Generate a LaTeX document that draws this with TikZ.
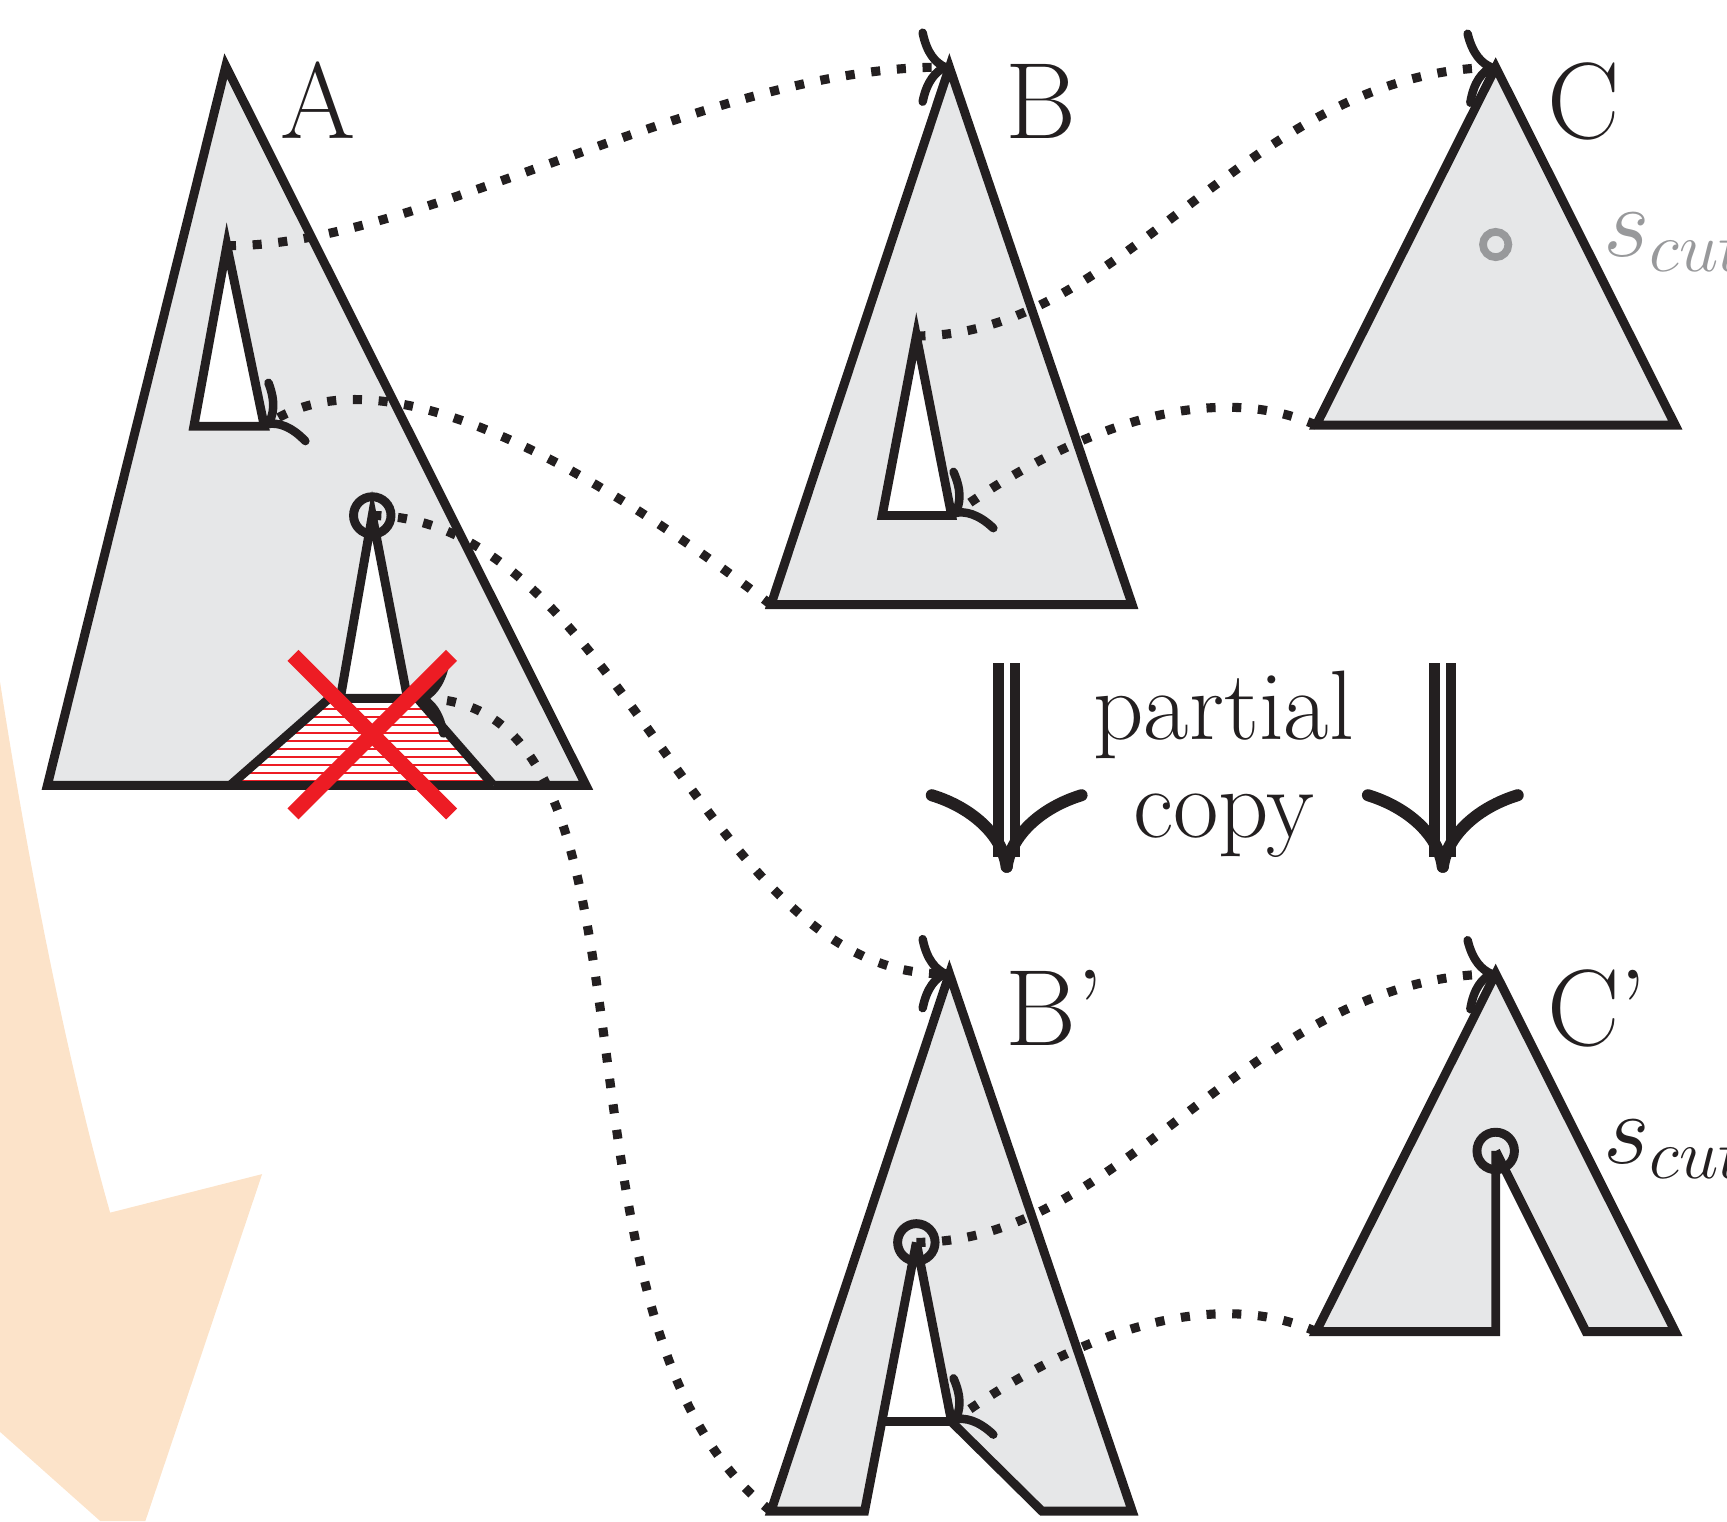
\RequirePackage{fix-cm}
\documentclass[tikz,border=0pt]{standalone}
\usetikzlibrary{arrows.meta}
\definecolor{ink}{RGB}{35,31,32}
\definecolor{treegray}{RGB}{230,231,232}
\definecolor{xred}{RGB}{237,28,36}
\definecolor{peach}{RGB}{252,227,201}
\definecolor{markgray}{RGB}{152,153,155}
\begin{document}
\begin{tikzpicture}[x=0.01cm,y=-0.01cm,
  treefill/.style={fill=treegray},
  outline/.style={draw=ink, line width=2.3pt, line join=miter},
  hole/.style={draw=ink, fill=white, line width=2.3pt},
  conn/.style={draw=ink, line width=2.35pt, dash pattern=on 2.35pt off 4.3pt,
    -{Computer Modern Rightarrow[length=8pt,width=20pt,line width=2.2pt]}},
  ringmark/.style={circle, draw=ink, line width=2.3pt, minimum size=0.34cm, inner sep=0pt},
  graymark/.style={circle, draw=markgray, line width=2pt, minimum size=0.23cm, inner sep=0pt},
  lbl/.style={font=\fontsize{28}{32}\selectfont, text=ink, inner sep=0pt, anchor=base west},
  txt/.style={font=\fontsize{25.5}{28}\selectfont, text=ink, inner sep=0pt, anchor=base},
  cutlbl/.style={font=\fontsize{26}{30}\selectfont, inner sep=0pt, anchor=base west},
  xstroke/.style={draw=xred, line width=4pt},
  shaft/.style={draw=ink, double=white, line width=2.65pt, double distance=1.62pt},
  barb/.style={draw=ink, line width=3.1pt, line cap=round},
]
\useasboundingbox (0,0) rectangle (1568,1381);

% peach background shape
\fill[peach] (0,619) .. controls (25,780) and (60,960) .. (100,1101) -- (238,1066) -- (132,1381) -- (91,1381) -- (0,1300) -- cycle;

% ---------- tree A ----------
\coordinate (Aapex) at (205,60);
\coordinate (Abl) at (43,713);
\coordinate (Abr) at (532,713);
\coordinate (A1apex) at (206,223);
\coordinate (A1bl) at (176,387);
\coordinate (A1br) at (240,387);
\coordinate (A2apex) at (338,468);
\coordinate (A2l) at (309,634);
\coordinate (A2r) at (370,634);
\coordinate (Ttl) at (299,634);
\coordinate (Ttr) at (379,634);
\coordinate (Tbr) at (448,713);
\coordinate (Tbl) at (209,713);

\path[treefill, outline] (Aapex) -- (Abr) -- (Abl) -- cycle;
\path[hole] (A1apex) -- (A1br) -- (A1bl) -- cycle;
\fill[white] (Ttl) -- (Ttr) -- (Tbr) -- (Tbl) -- cycle;
\begin{scope}
  \clip (Ttl) -- (Ttr) -- (Tbr) -- (Tbl) -- cycle;
  \foreach \yy in {644,651.26,...,712} \draw[xred, line width=0.45pt] (200,\yy) -- (460,\yy);
\end{scope}
\draw[outline] (Tbl) -- (Ttl) -- (Ttr) -- (Tbr);
\draw[outline] (Tbl) -- (Tbr);
\path[hole] (A2apex) -- (A2r) -- (A2l) -- cycle;
\node[ringmark] (Acirc) at (A2apex) {};

% ---------- tree B ----------
\coordinate (Bapex) at (862,61);
\coordinate (Bbl) at (700,549);
\coordinate (Bbr) at (1028,549);
\coordinate (B1apex) at (832,305);
\coordinate (B1bl) at (801,468);
\coordinate (B1br) at (864,468);
\path[treefill, outline] (Bapex) -- (Bbr) -- (Bbl) -- cycle;
\path[hole] (B1apex) -- (B1br) -- (B1bl) -- cycle;

% ---------- tree C ----------
\coordinate (Capex) at (1358,61);
\coordinate (Cbl) at (1195,386);
\coordinate (Cbr) at (1521,386);
\path[treefill, outline] (Capex) -- (Cbr) -- (Cbl) -- cycle;
\node[graymark] (Cmark) at (1358,222) {};

% ---------- tree B' ----------
\coordinate (Bpapex) at (862,884);
\coordinate (Bpbr) at (1028,1372);
\coordinate (Bpjr) at (946,1372);
\coordinate (Bpj) at (864,1291);
\coordinate (Bpcirc) at (832,1128);
\coordinate (Bpil) at (785,1372);
\coordinate (Bpbl) at (700,1372);
\coordinate (Bpjl) at (801,1291);
\fill[treegray] (Bpapex) -- (Bpbr) -- (Bpjr) -- (Bpj) -- (Bpcirc) -- (Bpil) -- (Bpbl) -- cycle;
\draw[outline] (Bpcirc) -- (Bpil) -- (Bpbl) -- (Bpapex) -- (Bpbr) -- (Bpjr) -- (Bpj) -- (Bpcirc);
\draw[outline] (Bpjl) -- (Bpj);
\node[ringmark] (BpC) at (Bpcirc) {};

% ---------- tree C' ----------
\coordinate (Cpapex) at (1358,884);
\coordinate (Cpbr) at (1521,1209);
\coordinate (Cpjr) at (1440,1209);
\coordinate (Cpcirc) at (1358,1045);
\coordinate (Cpjl) at (1358,1209);
\coordinate (Cpbl) at (1195,1209);
\fill[treegray] (Cpapex) -- (Cpbr) -- (Cpjr) -- (Cpcirc) -- (Cpjl) -- (Cpbl) -- cycle;
\draw[outline] (Cpcirc) -- (Cpjl) -- (Cpbl) -- (Cpapex) -- (Cpbr) -- (Cpjr) -- (Cpcirc);
\node[ringmark] (CpC) at (Cpcirc) {};

% ---------- connectors ----------
\draw[conn] (A1apex) .. controls (380,225) and (640,61) .. (Bapex);
\draw[conn] (Bbl) .. controls (480,380) and (330,330) .. (A1br);
\draw[conn] (Acirc.center) .. controls (560,470) and (640,884) .. (Bpapex);
\draw[conn] (Bpbl) .. controls (480,1200) and (620,640) .. (Ttr);
\draw[conn] (B1apex) .. controls (1020,305) and (1130,70) .. (Capex);
\draw[conn] (Cbl) .. controls (1090,340) and (960,400) .. (B1br);
\draw[conn] (BpC.center) .. controls (1020,1128) and (1130,893) .. (Cpapex);
\draw[conn] (Cpbl) .. controls (1090,1163) and (960,1223) .. (Bpj);

% ---------- red cross ----------
\coordinate (X1) at (266,595);
\coordinate (X2) at (410,739);
\coordinate (X3) at (410,595);
\coordinate (X4) at (266,739);
\draw[xstroke] (X1) -- (X2);
\draw[xstroke] (X3) -- (X4);

% ---------- labels ----------
\node[lbl] (labA) at (254,126) {A};
\node[lbl] (labB) at (912,126) {B};
\node[lbl] (labC) at (1404,126) {C};
\node[lbl] (labBp) at (912,949) {B’};
\node[lbl] (labCp) at (1404,949) {C’};
\node[cutlbl, text=markgray] (cut1) at (1455,233) {$s_{cut}$};
\node[cutlbl, text=ink] (cut2) at (1455,1056) {$s_{cut}$};

% ---------- partial copy arrows ----------
\node[txt] (partial) at (1111,671) {partial};
\node[txt] (copy) at (1111,760) {copy};

\coordinate (D1top) at (914,602);
\coordinate (D1end) at (914,778);
\coordinate (D1tip) at (914,787);
\coordinate (D1l) at (846,722);
\coordinate (D1r) at (982,722);
\draw[shaft] (D1top) -- (D1end);
\draw[barb] (D1l) .. controls (882,733) and (910,758) .. (D1tip);
\draw[barb] (D1r) .. controls (946,733) and (918,758) .. (D1tip);

\coordinate (D2top) at (1310,602);
\coordinate (D2end) at (1310,778);
\coordinate (D2tip) at (1310,787);
\coordinate (D2l) at (1242,722);
\coordinate (D2r) at (1378,722);
\draw[shaft] (D2top) -- (D2end);
\draw[barb] (D2l) .. controls (1278,733) and (1306,758) .. (D2tip);
\draw[barb] (D2r) .. controls (1342,733) and (1314,758) .. (D2tip);
\end{tikzpicture}
\end{document}
